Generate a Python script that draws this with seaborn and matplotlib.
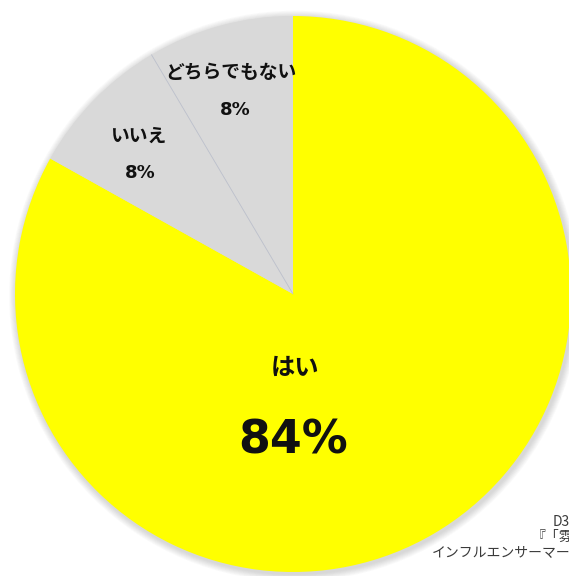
import matplotlib
matplotlib.use("Agg")
import matplotlib.pyplot as plt
import seaborn as sns
import numpy as np
from matplotlib.patches import Circle

# ---- data ----
categories = ["はい", "いいえ", "どちらでもない"]
values = [83.1, 8.4, 8.5]
pct_labels = ["84%", "8%", "8%"]
colors = ["#FFFF00", "#D9D9D9", "#D9D9D9"]
source_lines = ["D3C調べ", "『「雰囲気」調査』", "インフルエンサーマーケティング"]

sns.set_theme(style="white")
plt.rcParams["font.family"] = ["Noto Sans CJK JP", "DejaVu Sans"]

W, H = 569, 576
fig = plt.figure(figsize=(W / 100, H / 100), dpi=100)
ax = fig.add_axes([0, 0, 1, 1])

cx, cy, R = 293, H - 294, 278

# soft shadow
for i in range(8):
    ax.add_patch(Circle((cx + 1.5, cy - 2), R + 1 + i * 0.9, color="#707070",
                        alpha=0.035, lw=0, zorder=0))

wedges, _ = ax.pie(values, colors=colors, startangle=90, counterclock=False,
                   radius=R, center=(cx, cy), frame=True,
                   wedgeprops=dict(linewidth=0, edgecolor="none"))
ax.set_xlim(0, W)
ax.set_ylim(0, H)
ax.set_aspect("auto")
ax.axis("off")

# thin divider between the two grey wedges
th = np.deg2rad(wedges[1].theta1)
ax.plot([cx, cx + R * np.cos(th)], [cy, cy + R * np.sin(th)],
        color="#BCC0CC", lw=0.6, zorder=3)

# labels: (name pos, pct pos, name size, pct size)
label_layout = [
    ((295, 368), (293, 441), 17.5, 33),
    ((138, 136), (140, 173), 13.5, 13),
    ((231, 72), (235, 110), 13.5, 13),
]
for cat, pct, (npos, ppos, ns, ps) in zip(categories, pct_labels, label_layout):
    ax.text(npos[0], H - npos[1], cat, ha="center", va="center",
            fontsize=ns, fontweight="bold", color="#111111", zorder=5)
    ax.text(ppos[0], H - ppos[1], pct, ha="center", va="center",
            fontsize=ps, fontweight="bold", color="#111111", zorder=5,
            family=["DejaVu Sans", "Noto Sans CJK JP"])

src_pos = [(553, 522), (532, 537), (432, 553)]
for s, (x, y) in zip(source_lines, src_pos):
    ax.text(x, H - y, s, ha="left", va="center", fontsize=10,
            color="#3a3a3a", zorder=5)

fig.savefig("out.png", dpi=100)
